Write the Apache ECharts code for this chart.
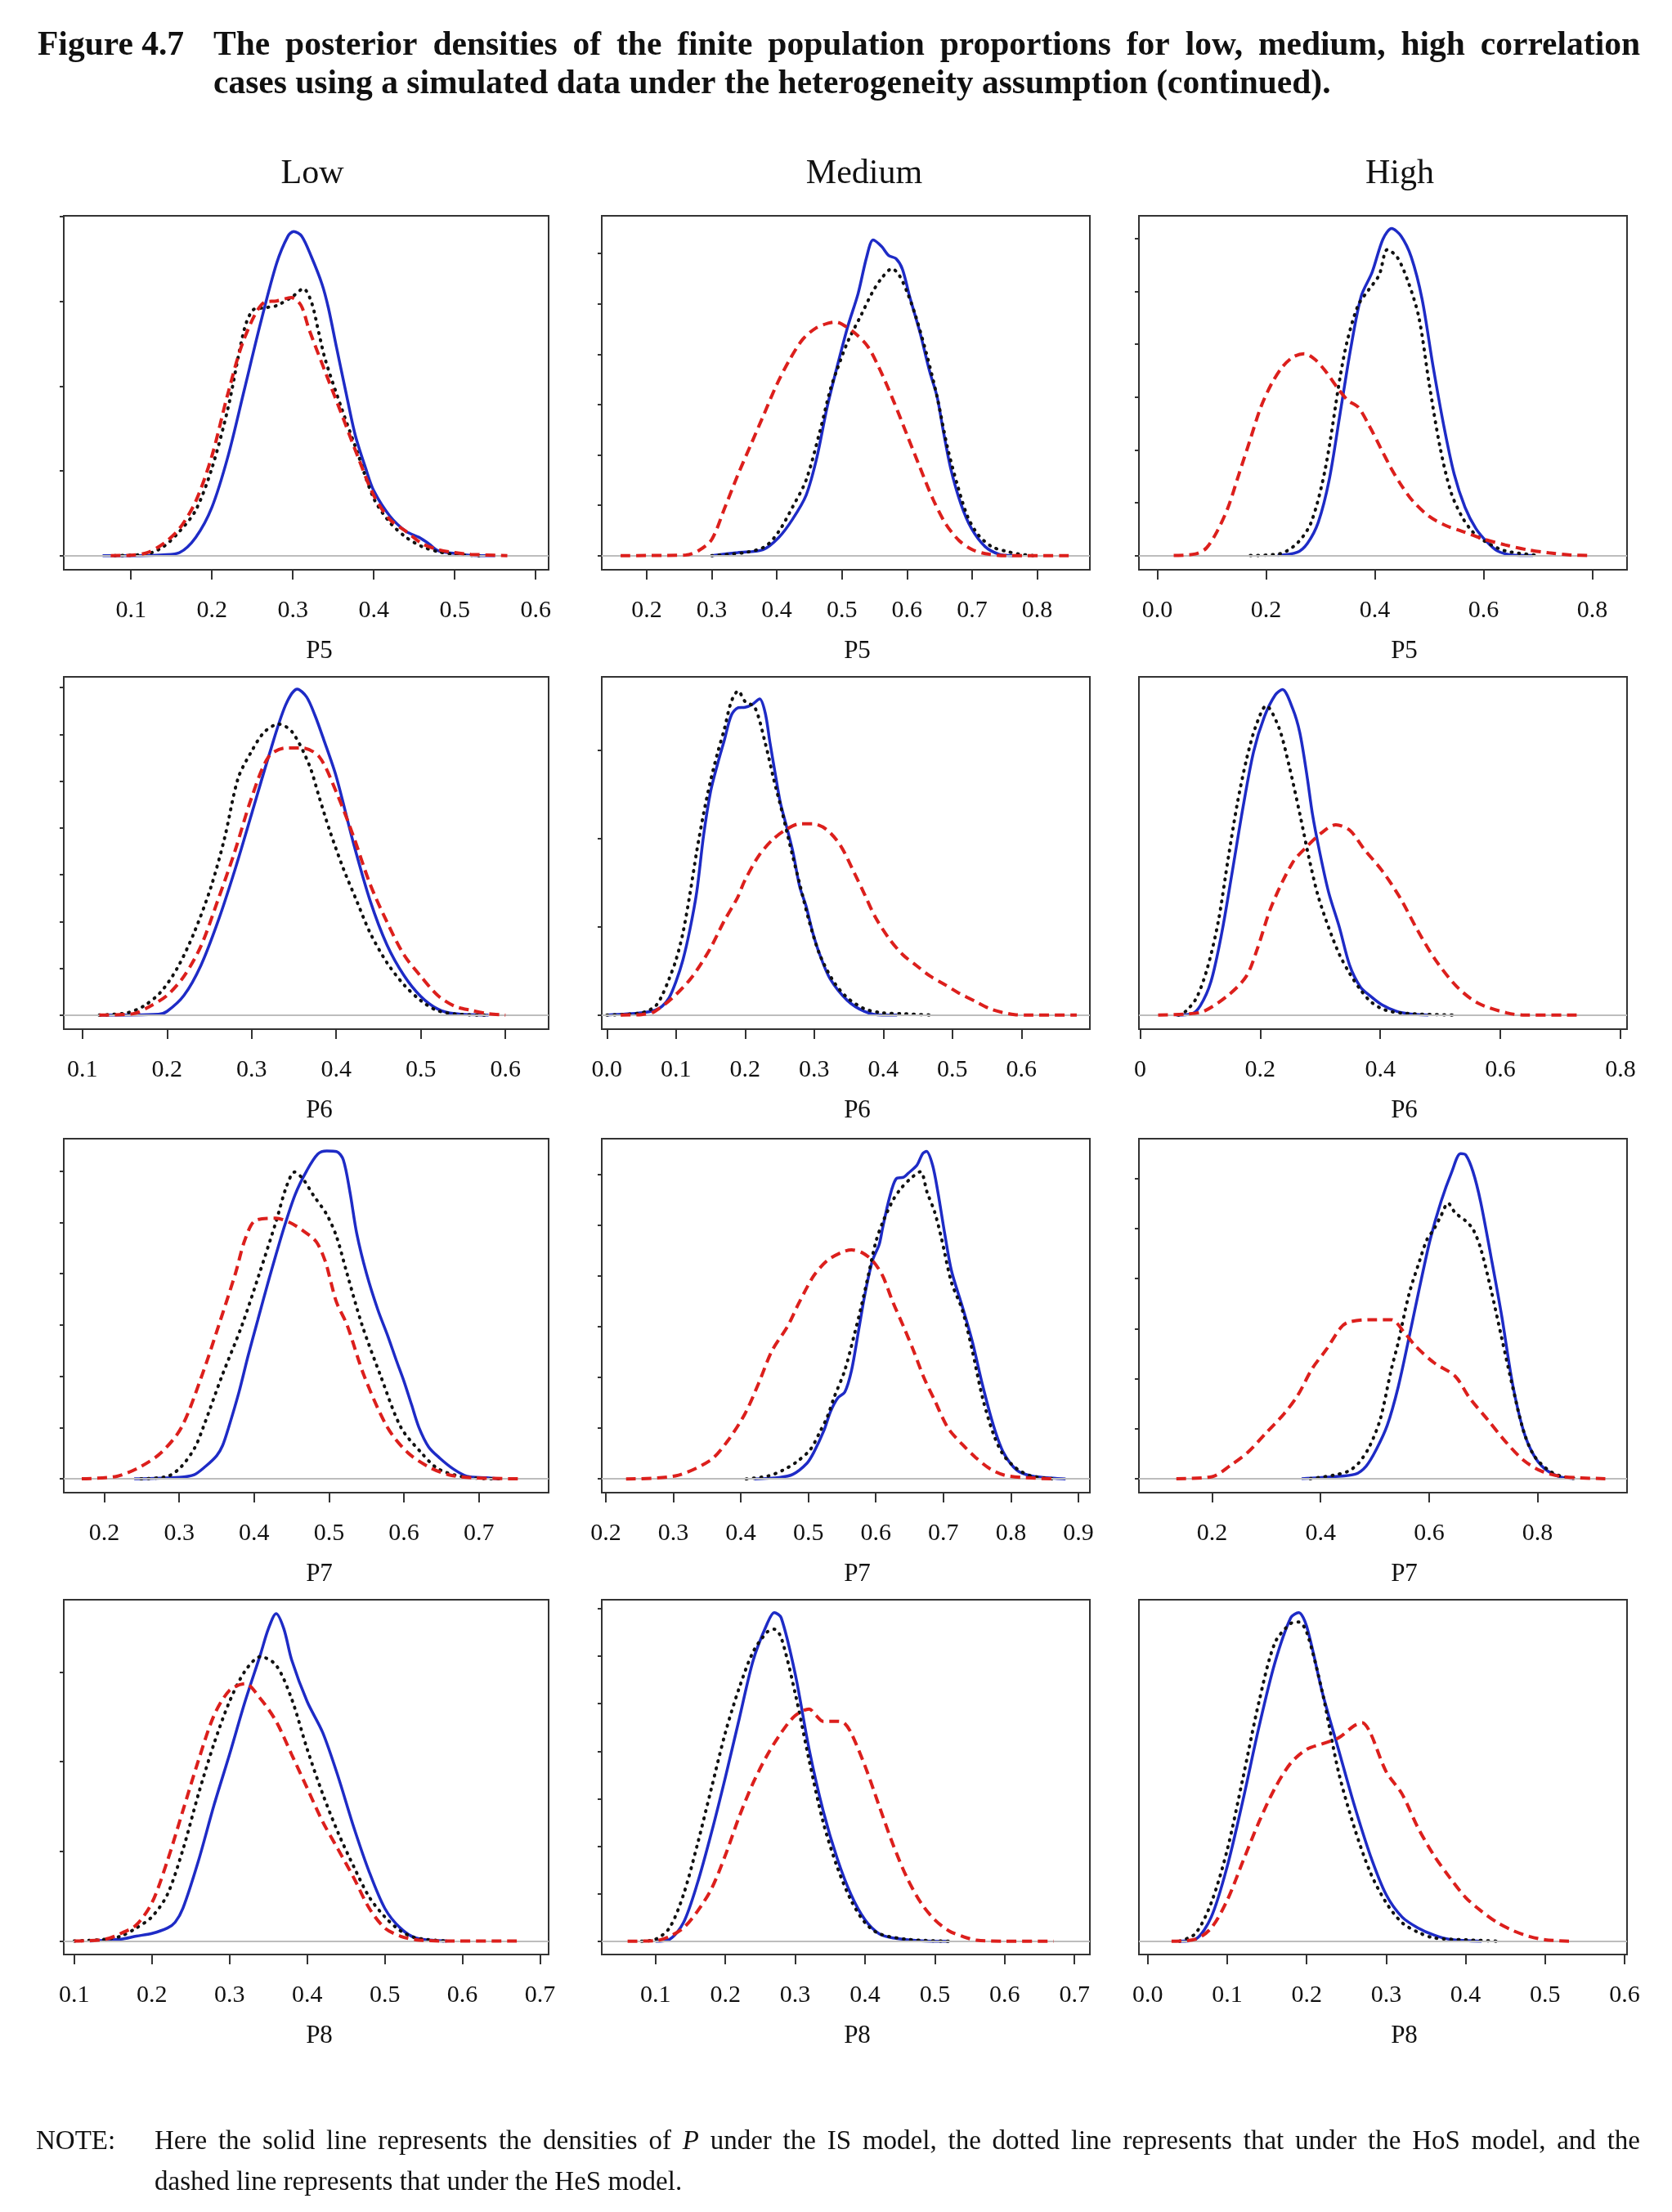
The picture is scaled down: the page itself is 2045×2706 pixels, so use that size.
<!DOCTYPE html>
<html>
<head>
<meta charset="utf-8"/>
<title>Posterior densities P5-P8</title>
<script src="https://cdn.jsdelivr.net/npm/echarts@6.0.0/dist/echarts.min.js"></script>
<style>
html, body { margin: 0; padding: 0; background: #fff; }
#main { width: 2045px; height: 2706px; }
</style>
</head>
<body>
<div id="main"></div>
<script type="text/javascript">
// density curves: [x, density]
// IS = solid blue, HoS = dotted black, HeS = dashed red
var lowP5_IS = [[0.065,0],[0.10,0],[0.14,0.02],[0.16,0.07],[0.18,0.43],[0.20,1.14],[0.22,2.35],[0.24,3.91],[0.26,5.48],[0.28,6.90],[0.294,7.54],[0.301,7.65],[0.311,7.54],[0.323,7.05],[0.336,6.41],[0.344,5.84],[0.354,4.91],[0.365,3.91],[0.377,2.85],[0.39,2.06],[0.40,1.53],[0.42,0.93],[0.44,0.57],[0.456,0.43],[0.468,0.28],[0.48,0.11],[0.50,0.05],[0.518,0.01],[0.55,0]];
var lowP5_HoS = [[0.08,0],[0.12,0.04],[0.14,0.21],[0.16,0.57],[0.18,1.07],[0.20,2.06],[0.22,3.49],[0.24,5.34],[0.251,5.80],[0.265,5.85],[0.28,5.90],[0.30,6.12],[0.313,6.30],[0.323,5.98],[0.332,5.27],[0.34,4.63],[0.36,3.49],[0.38,2.42],[0.40,1.35],[0.42,0.78],[0.44,0.43],[0.46,0.21],[0.48,0.09],[0.50,0.03],[0.53,0]];
var lowP5_HeS = [[0.075,0],[0.10,0.01],[0.12,0.07],[0.14,0.28],[0.16,0.64],[0.18,1.28],[0.20,2.35],[0.22,3.84],[0.24,5.12],[0.265,5.98],[0.28,6.01],[0.298,6.09],[0.31,5.91],[0.32,5.34],[0.34,4.34],[0.36,3.35],[0.38,2.35],[0.40,1.42],[0.42,0.85],[0.44,0.57],[0.46,0.28],[0.48,0.14],[0.50,0.07],[0.52,0.03],[0.565,0]];

var mediumP5_IS = [[0.30,0],[0.34,0.06],[0.379,0.12],[0.403,0.36],[0.424,0.72],[0.445,1.20],[0.461,1.92],[0.477,2.93],[0.493,3.77],[0.509,4.55],[0.525,5.21],[0.538,5.93],[0.548,6.27],[0.561,6.14],[0.572,5.96],[0.583,5.90],[0.593,5.69],[0.604,5.15],[0.620,4.43],[0.635,3.65],[0.646,3.17],[0.656,2.46],[0.667,1.74],[0.683,1.02],[0.699,0.54],[0.720,0.18],[0.741,0.03],[0.762,0]];
var mediumP5_HoS = [[0.30,0],[0.35,0.06],[0.382,0.18],[0.403,0.48],[0.424,0.96],[0.445,1.50],[0.466,2.46],[0.482,3.29],[0.493,3.71],[0.509,4.25],[0.530,4.79],[0.546,5.21],[0.561,5.51],[0.577,5.70],[0.588,5.57],[0.601,5.21],[0.614,4.73],[0.630,4.01],[0.646,3.17],[0.662,2.16],[0.678,1.38],[0.693,0.78],[0.709,0.42],[0.730,0.18],[0.751,0.09],[0.773,0.03],[0.794,0]];
var mediumP5_HeS = [[0.16,0],[0.26,0.01],[0.28,0.10],[0.30,0.32],[0.32,0.95],[0.34,1.60],[0.36,2.20],[0.38,2.80],[0.40,3.40],[0.42,3.90],[0.44,4.30],[0.46,4.52],[0.48,4.62],[0.49,4.64],[0.50,4.60],[0.52,4.42],[0.54,4.15],[0.56,3.65],[0.58,3.05],[0.60,2.40],[0.62,1.75],[0.64,1.12],[0.66,0.62],[0.68,0.30],[0.70,0.12],[0.72,0.04],[0.75,0],[0.85,0]];

var highP5_IS = [[0.221,0],[0.257,0.06],[0.276,0.23],[0.296,0.63],[0.316,1.43],[0.336,2.68],[0.356,3.94],[0.375,4.91],[0.395,5.36],[0.415,5.99],[0.431,6.19],[0.448,6.05],[0.467,5.65],[0.487,4.85],[0.507,3.59],[0.527,2.45],[0.546,1.54],[0.566,0.91],[0.586,0.51],[0.606,0.26],[0.625,0.09],[0.652,0.01],[0.691,0]];
var highP5_HoS = [[0.171,0],[0.224,0.03],[0.257,0.23],[0.283,0.63],[0.309,1.65],[0.336,3.37],[0.349,4.05],[0.369,4.73],[0.388,5.02],[0.408,5.31],[0.423,5.79],[0.441,5.65],[0.461,5.19],[0.481,4.51],[0.50,3.25],[0.52,2.05],[0.54,1.20],[0.56,0.74],[0.579,0.46],[0.599,0.29],[0.639,0.09],[0.704,0]];
var highP5_HeS = [[0.03,0],[0.07,0.03],[0.09,0.14],[0.11,0.46],[0.13,0.91],[0.15,1.54],[0.17,2.17],[0.19,2.80],[0.21,3.25],[0.23,3.57],[0.25,3.76],[0.27,3.82],[0.29,3.71],[0.31,3.48],[0.33,3.19],[0.35,2.94],[0.37,2.80],[0.39,2.45],[0.41,2.05],[0.43,1.65],[0.45,1.31],[0.47,1.03],[0.50,0.74],[0.53,0.57],[0.56,0.46],[0.60,0.31],[0.64,0.20],[0.68,0.11],[0.72,0.05],[0.76,0.01],[0.80,0]];

var lowP6_IS = [[0.12,0],[0.19,0.02],[0.20,0.08],[0.22,0.42],[0.24,1.06],[0.26,1.99],[0.28,3.09],[0.30,4.30],[0.32,5.52],[0.34,6.62],[0.354,6.97],[0.365,6.80],[0.375,6.40],[0.385,5.90],[0.40,5.10],[0.42,3.70],[0.44,2.45],[0.46,1.50],[0.48,0.85],[0.50,0.40],[0.52,0.13],[0.54,0.03],[0.58,0]];
var lowP6_HoS = [[0.12,0],[0.153,0.05],[0.172,0.19],[0.192,0.48],[0.212,1.0],[0.232,1.76],[0.252,2.74],[0.268,3.78],[0.284,5.06],[0.30,5.64],[0.315,6.05],[0.332,6.22],[0.348,6.05],[0.368,5.35],[0.38,4.65],[0.392,3.96],[0.408,3.15],[0.424,2.45],[0.44,1.76],[0.46,1.12],[0.48,0.65],[0.50,0.31],[0.519,0.10],[0.543,0.02],[0.58,0]];
var lowP6_HeS = [[0.12,0],[0.16,0.03],[0.18,0.19],[0.20,0.42],[0.22,0.83],[0.24,1.47],[0.26,2.45],[0.28,3.49],[0.30,4.65],[0.32,5.52],[0.34,5.71],[0.36,5.71],[0.38,5.52],[0.40,4.77],[0.42,3.84],[0.44,2.80],[0.46,1.99],[0.48,1.29],[0.50,0.83],[0.52,0.42],[0.54,0.19],[0.56,0.10],[0.58,0.03],[0.60,0]];

var mediumP6_IS = [[0,0],[0.05,0.05],[0.07,0.11],[0.08,0.20],[0.09,0.39],[0.10,0.76],[0.11,1.25],[0.12,1.93],[0.13,2.79],[0.14,4.08],[0.15,5.06],[0.16,5.68],[0.17,6.23],[0.18,6.79],[0.19,6.96],[0.20,6.97],[0.21,7.03],[0.221,7.16],[0.229,6.85],[0.236,6.17],[0.244,5.43],[0.251,4.81],[0.259,4.33],[0.269,3.71],[0.279,2.91],[0.288,2.48],[0.298,1.86],[0.308,1.37],[0.323,0.82],[0.348,0.33],[0.373,0.08],[0.398,0],[0.42,0]];
var mediumP6_HoS = [[0,0],[0.05,0.05],[0.07,0.20],[0.08,0.45],[0.09,0.82],[0.10,1.25],[0.11,1.86],[0.12,2.73],[0.13,3.71],[0.14,4.57],[0.15,5.31],[0.16,5.93],[0.17,6.48],[0.18,7.10],[0.19,7.34],[0.20,7.10],[0.214,6.97],[0.229,6.17],[0.241,5.37],[0.254,4.57],[0.269,3.59],[0.279,2.97],[0.293,2.11],[0.308,1.37],[0.328,0.76],[0.348,0.39],[0.373,0.14],[0.398,0.05],[0.428,0.03],[0.468,0]];
var mediumP6_HeS = [[0.02,0],[0.05,0.01],[0.069,0.08],[0.099,0.45],[0.124,0.88],[0.149,1.49],[0.169,2.11],[0.189,2.66],[0.199,3.03],[0.219,3.59],[0.239,3.96],[0.259,4.20],[0.279,4.33],[0.298,4.33],[0.318,4.20],[0.338,3.84],[0.358,3.22],[0.373,2.73],[0.388,2.23],[0.408,1.74],[0.428,1.37],[0.448,1.12],[0.468,0.88],[0.488,0.70],[0.508,0.51],[0.533,0.31],[0.553,0.15],[0.572,0.06],[0.59,0.01],[0.61,0],[0.68,0]];

var highP6_IS = [[0.06,0],[0.085,0.02],[0.10,0.17],[0.118,0.62],[0.136,1.52],[0.153,2.62],[0.171,3.82],[0.189,4.87],[0.207,5.52],[0.225,5.92],[0.237,6.02],[0.254,5.67],[0.266,5.22],[0.278,4.42],[0.287,3.72],[0.299,3.02],[0.314,2.27],[0.332,1.62],[0.349,0.92],[0.367,0.52],[0.385,0.34],[0.403,0.19],[0.427,0.07],[0.451,0.02],[0.48,0]];
var highP6_HoS = [[0.064,0],[0.076,0.07],[0.094,0.32],[0.112,0.87],[0.13,1.72],[0.147,2.92],[0.162,3.92],[0.177,4.72],[0.192,5.32],[0.21,5.72],[0.231,5.32],[0.248,4.62],[0.266,3.72],[0.281,2.92],[0.296,2.22],[0.314,1.62],[0.332,1.12],[0.349,0.77],[0.367,0.47],[0.385,0.24],[0.409,0.09],[0.445,0.03],[0.528,0]];
var highP6_HeS = [[0.03,0],[0.076,0.02],[0.106,0.07],[0.147,0.37],[0.177,0.72],[0.195,1.22],[0.219,2.02],[0.254,2.82],[0.278,3.12],[0.302,3.37],[0.326,3.52],[0.349,3.42],[0.373,3.07],[0.403,2.67],[0.433,2.17],[0.462,1.57],[0.492,1.02],[0.528,0.52],[0.563,0.22],[0.611,0.04],[0.641,0],[0.73,0]];

var lowP7_IS = [[0.24,0],[0.30,0.03],[0.32,0.08],[0.335,0.24],[0.35,0.45],[0.358,0.65],[0.366,1.0],[0.38,1.7],[0.392,2.4],[0.405,3.1],[0.42,3.9],[0.44,4.9],[0.455,5.55],[0.47,6.0],[0.485,6.33],[0.497,6.39],[0.51,6.38],[0.519,6.22],[0.528,5.58],[0.537,4.78],[0.55,4.0],[0.565,3.3],[0.578,2.8],[0.59,2.3],[0.60,1.9],[0.61,1.45],[0.62,1.0],[0.633,0.62],[0.648,0.40],[0.666,0.19],[0.684,0.05],[0.71,0.02],[0.725,0]];
var lowP7_HoS = [[0.249,0],[0.285,0.05],[0.303,0.24],[0.321,0.61],[0.332,1.0],[0.357,2.0],[0.384,3.0],[0.407,4.0],[0.429,5.0],[0.443,5.69],[0.454,5.98],[0.465,5.85],[0.479,5.53],[0.497,5.15],[0.51,4.72],[0.524,4.0],[0.544,3.0],[0.569,2.0],[0.596,1.0],[0.623,0.51],[0.646,0.19],[0.682,0.03],[0.73,0]];
var lowP7_HeS = [[0.17,0],[0.217,0.05],[0.249,0.24],[0.276,0.51],[0.303,1.0],[0.33,2.0],[0.353,3.0],[0.375,4.0],[0.388,4.67],[0.402,5.04],[0.429,5.08],[0.447,5.0],[0.465,4.84],[0.483,4.62],[0.495,4.24],[0.501,3.92],[0.51,3.44],[0.524,3.0],[0.547,2.0],[0.578,1.0],[0.605,0.51],[0.632,0.24],[0.659,0.08],[0.691,0.02],[0.754,0]];

var mediumP7_IS = [[0.42,0],[0.457,0.03],[0.477,0.09],[0.498,0.31],[0.508,0.52],[0.523,0.95],[0.533,1.33],[0.544,1.60],[0.554,1.71],[0.564,2.14],[0.574,2.89],[0.584,3.65],[0.595,4.30],[0.605,4.62],[0.61,4.94],[0.62,5.53],[0.63,5.91],[0.641,5.94],[0.648,6.02],[0.661,6.18],[0.669,6.40],[0.675,6.45],[0.684,6.18],[0.692,5.64],[0.702,4.83],[0.712,4.10],[0.728,3.40],[0.743,2.70],[0.758,1.85],[0.774,1.06],[0.789,0.52],[0.809,0.17],[0.83,0.06],[0.866,0.01],[0.881,0]];
var mediumP7_HoS = [[0.408,0],[0.441,0.06],[0.462,0.17],[0.482,0.33],[0.503,0.58],[0.518,0.95],[0.528,1.22],[0.538,1.60],[0.554,2.14],[0.569,2.89],[0.579,3.43],[0.59,4.08],[0.60,4.67],[0.61,5.05],[0.625,5.48],[0.636,5.70],[0.651,5.91],[0.666,6.05],[0.676,5.64],[0.687,5.26],[0.697,4.75],[0.712,3.87],[0.728,3.33],[0.743,2.52],[0.758,1.60],[0.774,0.89],[0.789,0.47],[0.809,0.20],[0.83,0.06],[0.866,0]];
var mediumP7_HeS = [[0.23,0],[0.303,0.06],[0.354,0.36],[0.38,0.74],[0.406,1.28],[0.426,1.87],[0.446,2.52],[0.469,3.0],[0.487,3.49],[0.508,4.0],[0.528,4.30],[0.549,4.46],[0.564,4.51],[0.579,4.46],[0.595,4.30],[0.61,4.0],[0.625,3.49],[0.641,3.0],[0.656,2.52],[0.671,2.0],[0.687,1.55],[0.707,1.0],[0.728,0.68],[0.748,0.42],[0.769,0.20],[0.789,0.08],[0.815,0.03],[0.866,0]];

var highP7_IS = [[0.365,0],[0.424,0.04],[0.464,0.09],[0.484,0.25],[0.503,0.59],[0.523,1.07],[0.543,1.83],[0.563,2.82],[0.582,3.80],[0.602,4.78],[0.622,5.54],[0.642,6.14],[0.658,6.50],[0.668,6.47],[0.681,6.14],[0.695,5.54],[0.714,4.45],[0.734,3.25],[0.754,1.89],[0.774,0.96],[0.793,0.47],[0.813,0.20],[0.84,0.04],[0.866,0]];
var highP7_HoS = [[0.381,0],[0.424,0.07],[0.451,0.15],[0.47,0.31],[0.49,0.64],[0.51,1.19],[0.53,2.17],[0.543,2.72],[0.563,3.69],[0.582,4.34],[0.596,4.78],[0.609,4.99],[0.622,5.26],[0.635,5.51],[0.648,5.32],[0.668,5.15],[0.681,4.99],[0.695,4.61],[0.714,3.79],[0.734,2.81],[0.754,1.84],[0.774,0.96],[0.793,0.47],[0.82,0.17],[0.846,0.04],[0.873,0]];
var highP7_HeS = [[0.134,0],[0.20,0.04],[0.233,0.26],[0.266,0.53],[0.299,0.91],[0.332,1.29],[0.358,1.67],[0.385,2.21],[0.411,2.59],[0.437,3.02],[0.451,3.13],[0.49,3.18],[0.53,3.18],[0.556,2.90],[0.576,2.64],[0.609,2.32],[0.648,2.05],[0.675,1.61],[0.708,1.18],[0.741,0.74],[0.774,0.37],[0.807,0.15],[0.846,0.04],[0.925,0]];

var lowP8_IS = [[0.12,0],[0.16,0.04],[0.18,0.11],[0.20,0.17],[0.22,0.29],[0.23,0.42],[0.24,0.73],[0.26,1.79],[0.28,3.03],[0.30,4.16],[0.32,5.34],[0.34,6.40],[0.35,6.96],[0.36,7.30],[0.37,6.96],[0.38,6.27],[0.40,5.34],[0.42,4.65],[0.44,3.66],[0.46,2.54],[0.48,1.54],[0.50,0.73],[0.52,0.29],[0.54,0.07],[0.58,0]];
var lowP8_HoS = [[0.10,0],[0.14,0.04],[0.16,0.11],[0.18,0.29],[0.20,0.54],[0.22,1.04],[0.24,2.04],[0.26,3.28],[0.28,4.40],[0.30,5.34],[0.32,6.02],[0.34,6.34],[0.36,6.15],[0.38,5.40],[0.40,4.28],[0.42,3.28],[0.44,2.41],[0.46,1.66],[0.48,0.98],[0.50,0.54],[0.52,0.23],[0.54,0.07],[0.58,0]];
var lowP8_HeS = [[0.10,0],[0.14,0.04],[0.16,0.17],[0.18,0.36],[0.20,0.85],[0.22,1.79],[0.24,2.91],[0.26,4.03],[0.28,5.03],[0.30,5.59],[0.32,5.74],[0.34,5.40],[0.36,4.90],[0.38,4.16],[0.40,3.41],[0.42,2.66],[0.44,2.04],[0.46,1.41],[0.48,0.73],[0.50,0.29],[0.52,0.11],[0.54,0.03],[0.58,0],[0.67,0]];

var mediumP8_IS = [[0.10,0],[0.12,0.04],[0.14,0.39],[0.16,1.22],[0.18,2.28],[0.20,3.45],[0.22,4.69],[0.24,5.92],[0.26,6.69],[0.27,6.92],[0.28,6.81],[0.30,5.63],[0.32,4.04],[0.34,2.75],[0.36,1.75],[0.38,0.98],[0.40,0.45],[0.42,0.16],[0.44,0.07],[0.48,0.01],[0.52,0]];
var mediumP8_HoS = [[0.08,0],[0.10,0.04],[0.12,0.28],[0.14,0.98],[0.16,2.04],[0.18,3.22],[0.20,4.39],[0.22,5.34],[0.24,6.10],[0.26,6.51],[0.27,6.57],[0.28,6.39],[0.30,5.22],[0.32,3.81],[0.34,2.51],[0.36,1.57],[0.38,0.86],[0.40,0.39],[0.42,0.16],[0.46,0.04],[0.52,0]];
var mediumP8_HeS = [[0.06,0],[0.10,0.01],[0.12,0.10],[0.14,0.28],[0.16,0.63],[0.18,1.10],[0.20,1.81],[0.22,2.63],[0.24,3.34],[0.26,3.92],[0.28,4.39],[0.30,4.75],[0.32,4.89],[0.33,4.75],[0.34,4.63],[0.36,4.63],[0.37,4.60],[0.38,4.39],[0.40,3.69],[0.42,2.86],[0.44,2.04],[0.46,1.34],[0.48,0.81],[0.50,0.45],[0.52,0.22],[0.54,0.10],[0.56,0.02],[0.60,0],[0.67,0]];

var highP8_IS = [[0.04,0],[0.06,0.04],[0.08,0.51],[0.10,1.57],[0.12,2.98],[0.14,4.51],[0.16,5.86],[0.18,6.81],[0.19,6.92],[0.20,6.63],[0.22,5.22],[0.24,4.04],[0.26,2.86],[0.28,1.81],[0.30,0.98],[0.32,0.51],[0.34,0.28],[0.36,0.13],[0.38,0.04],[0.42,0]];
var highP8_HoS = [[0.04,0],[0.06,0.16],[0.08,0.81],[0.10,1.92],[0.12,3.45],[0.14,5.04],[0.16,6.28],[0.18,6.69],[0.19,6.72],[0.20,6.51],[0.22,5.22],[0.24,3.57],[0.26,2.39],[0.28,1.45],[0.30,0.81],[0.32,0.39],[0.34,0.19],[0.36,0.07],[0.40,0.03],[0.44,0]];
var highP8_HeS = [[0.03,0],[0.06,0.04],[0.08,0.28],[0.10,0.86],[0.12,1.69],[0.14,2.51],[0.16,3.22],[0.18,3.75],[0.20,4.04],[0.22,4.16],[0.24,4.28],[0.26,4.54],[0.27,4.60],[0.28,4.39],[0.30,3.57],[0.32,3.10],[0.34,2.39],[0.36,1.81],[0.38,1.34],[0.40,0.92],[0.42,0.63],[0.44,0.39],[0.46,0.22],[0.48,0.10],[0.50,0.03],[0.53,0]];

// x tick values and labels
var xTicksLowP5 = [0.1, 0.2, 0.3, 0.4, 0.5, 0.6];
var xTicksMediumP5 = [0.2, 0.3, 0.4, 0.5, 0.6, 0.7, 0.8];
var xTicksHighP5 = [0, 0.2, 0.4, 0.6, 0.8];
var xTicksLowP6 = [0.1, 0.2, 0.3, 0.4, 0.5, 0.6];
var xTicksMediumP6 = [0, 0.1, 0.2, 0.3, 0.4, 0.5, 0.6];
var xTicksHighP6 = [0, 0.2, 0.4, 0.6, 0.8];
var xLabelsHighP6 = ['0', '0.2', '0.4', '0.6', '0.8'];
var xTicksLowP7 = [0.2, 0.3, 0.4, 0.5, 0.6, 0.7];
var xTicksMediumP7 = [0.2, 0.3, 0.4, 0.5, 0.6, 0.7, 0.8, 0.9];
var xTicksHighP7 = [0.2, 0.4, 0.6, 0.8];
var xTicksLowP8 = [0.1, 0.2, 0.3, 0.4, 0.5, 0.6, 0.7];
var xTicksMediumP8 = [0.1, 0.2, 0.3, 0.4, 0.5, 0.6, 0.7];
var xTicksHighP8 = [0, 0.1, 0.2, 0.3, 0.4, 0.5, 0.6];

var colHeaders = ['Low', 'Medium', 'High'];

// panel layout (pixels)
var colLeft = [78, 736, 1393];
var colWidth = [593, 597, 597];
var rowTop = [264, 828, 1393, 1957];
var rowHeight = [433, 431, 433, 434];
var nameShift = [16, 14, 26];
var headerX = [382, 1057, 1712];
var serif = '"Liberation Serif", "Times New Roman", serif';

var panels = [
    {r: 0, c: 0, name: 'P5', x: [0.017, 0.616], y: [-0.334, 8.02], xt: xTicksLowP5, yt: [0, 2, 4, 6, 8], d: [lowP5_IS, lowP5_HoS, lowP5_HeS]},
    {r: 0, c: 1, name: 'P5', x: [0.131, 0.881], y: [-0.281, 6.75], xt: xTicksMediumP5, yt: [0, 1, 2, 3, 4, 5, 6], d: [mediumP5_IS, mediumP5_HoS, mediumP5_HeS]},
    {r: 0, c: 2, name: 'P5', x: [-0.034, 0.864], y: [-0.27, 6.43], xt: xTicksHighP5, yt: [0, 1, 2, 3, 4, 5, 6], d: [highP5_IS, highP5_HoS, highP5_HeS]},
    {r: 1, c: 0, name: 'P6', x: [0.078, 0.651], y: [-0.30, 7.23], xt: xTicksLowP6, yt: [0, 1, 2, 3, 4, 5, 6, 7], d: [lowP6_IS, lowP6_HoS, lowP6_HeS]},
    {r: 1, c: 1, name: 'P6', x: [-0.0075, 0.699], y: [-0.32, 7.66], xt: xTicksMediumP6, yt: [0, 2, 4, 6], d: [mediumP6_IS, mediumP6_HoS, mediumP6_HeS]},
    {r: 1, c: 2, name: 'P6', x: [-0.002, 0.811], y: [-0.26, 6.255], xt: xTicksHighP6, xl: xLabelsHighP6, yt: [], d: [highP6_IS, highP6_HoS, highP6_HeS]},
    {r: 2, c: 0, name: 'P7', x: [0.146, 0.793], y: [-0.27, 6.63], xt: xTicksLowP7, yt: [0, 1, 2, 3, 4, 5, 6], d: [lowP7_IS, lowP7_HoS, lowP7_HeS]},
    {r: 2, c: 1, name: 'P7', x: [0.194, 0.917], y: [-0.27, 6.70], xt: xTicksMediumP7, yt: [0, 1, 2, 3, 4, 5, 6], d: [mediumP7_IS, mediumP7_HoS, mediumP7_HeS]},
    {r: 2, c: 2, name: 'P7', x: [0.065, 0.965], y: [-0.28, 6.80], xt: xTicksHighP7, yt: [0, 1, 2, 3, 4, 5, 6], d: [highP7_IS, highP7_HoS, highP7_HeS]},
    {r: 3, c: 0, name: 'P8', x: [0.0865, 0.711], y: [-0.30, 7.61], xt: xTicksLowP8, yt: [0, 2, 4, 6], d: [lowP8_IS, lowP8_HoS, lowP8_HeS]},
    {r: 3, c: 1, name: 'P8', x: [0.023, 0.722], y: [-0.28, 7.19], xt: xTicksMediumP8, yt: [0, 1, 2, 3, 4, 5, 6, 7], d: [mediumP8_IS, mediumP8_HoS, mediumP8_HeS]},
    {r: 3, c: 2, name: 'P8', x: [-0.011, 0.603], y: [-0.28, 7.19], xt: xTicksHighP8, yt: [], d: [highP8_IS, highP8_HoS, highP8_HeS]}
];

var lineStyles = [
    {color: '#1e2bc6', width: 3.5, type: 'solid'},
    {color: '#111111', width: 4, type: [1, 8], cap: 'round'},
    {color: '#dc1f1c', width: 4, type: [12, 7]}
];

var grids = [], xAxes = [], yAxes = [], series = [];

panels.forEach(function (p, i) {
    grids.push({
        left: colLeft[p.c], top: rowTop[p.r], width: colWidth[p.c], height: rowHeight[p.r],
        show: true, borderColor: '#333', borderWidth: 2, backgroundColor: 'transparent'
    });
    var labels = p.xl;
    xAxes.push({
        type: 'value', gridIndex: i, min: p.x[0], max: p.x[1],
        axisLine: {show: false, onZero: false},
        splitLine: {show: false},
        axisTick: {show: true, customValues: p.xt, length: 12, lineStyle: {color: '#333', width: 2}},
        axisLabel: {
            customValues: p.xt, margin: 35, fontFamily: serif, fontSize: 30, color: '#111',
            formatter: function (v) {
                var k = 0;
                p.xt.forEach(function (t, j) { if (Math.abs(t - v) < Math.abs(p.xt[k] - v)) k = j; });
                return labels ? labels[k] : p.xt[k].toFixed(1);
            }
        },
        name: p.name, nameLocation: 'middle', nameGap: 84,
        nameTextStyle: {fontFamily: serif, fontSize: 31, color: '#111', padding: [0, 0, 0, 2 * nameShift[p.c]]}
    });
    yAxes.push({
        type: 'value', gridIndex: i, min: p.y[0], max: p.y[1],
        axisLine: {show: false, onZero: false},
        splitLine: {show: false},
        axisLabel: {show: false},
        axisTick: {show: p.yt.length > 0, customValues: p.yt, length: 5, lineStyle: {color: '#333', width: 2}}
    });
    p.d.forEach(function (curve, k) {
        var s = {
            type: 'line', xAxisIndex: i, yAxisIndex: i, data: curve,
            showSymbol: false, smooth: 0.3, silent: true,
            lineStyle: lineStyles[k], z: 3 + k
        };
        if (k === 0) {
            s.markLine = {
                silent: true, symbol: ['none', 'none'], label: {show: false},
                lineStyle: {color: '#bdbdbd', width: 2, type: 'solid'},
                data: [{yAxis: 0}]
            };
        }
        series.push(s);
    });
});

// text helpers
var measureCtx = document.createElement('canvas').getContext('2d');
function textEl(str, x, y, size, weight, align, italic) {
    return {
        type: 'text', x: x, y: y, silent: true,
        style: {
            text: str, fontSize: size, fontFamily: serif, fontWeight: weight || 'normal',
            fontStyle: italic ? 'italic' : 'normal', fill: '#111',
            align: align || 'left', verticalAlign: 'middle'
        }
    };
}
function justified(words, x0, x1, y, size, weight, italicWord) {
    var widths = [], total = 0, out = [];
    words.forEach(function (w) {
        measureCtx.font = (w === italicWord ? 'italic ' : '') + weight + ' ' + size + 'px ' + serif;
        var wd = measureCtx.measureText(w).width;
        widths.push(wd);
        total += wd;
    });
    var gap = (x1 - x0 - total) / (words.length - 1);
    var x = x0;
    words.forEach(function (w, i) {
        out.push(textEl(w, x, y, size, weight, 'left', w === italicWord));
        x += widths[i] + gap;
    });
    return out;
}

var graphics = [];
graphics.push(textEl('Figure 4.7', 46, 56, 41.5, 'bold'));
graphics = graphics.concat(justified(
    'The posterior densities of the finite population proportions for low, medium, high correlation'.split(' '),
    261, 2006, 56, 41.5, 'bold'));
graphics.push(textEl('cases using a simulated data under the heterogeneity assumption (continued).', 261, 103, 41.5, 'bold'));
colHeaders.forEach(function (h, c) {
    graphics.push(textEl(h, headerX[c], 213, 42, 'normal', 'center'));
});
graphics.push(textEl('NOTE:', 44, 2620, 33, 'normal'));
graphics = graphics.concat(justified(
    'Here the solid line represents the densities of P under the IS model, the dotted line represents that under the HoS model, and the'.split(' '),
    189, 2006, 2620, 33, 'normal', 'P'));
graphics.push(textEl('dashed line represents that under the HeS model.', 189, 2670, 33, 'normal'));

var myChart = echarts.init(document.getElementById('main'));
myChart.setOption({
    backgroundColor: '#ffffff',
    animation: false,
    grid: grids,
    xAxis: xAxes,
    yAxis: yAxes,
    series: series,
    graphic: graphics
});
</script>
</body>
</html>
